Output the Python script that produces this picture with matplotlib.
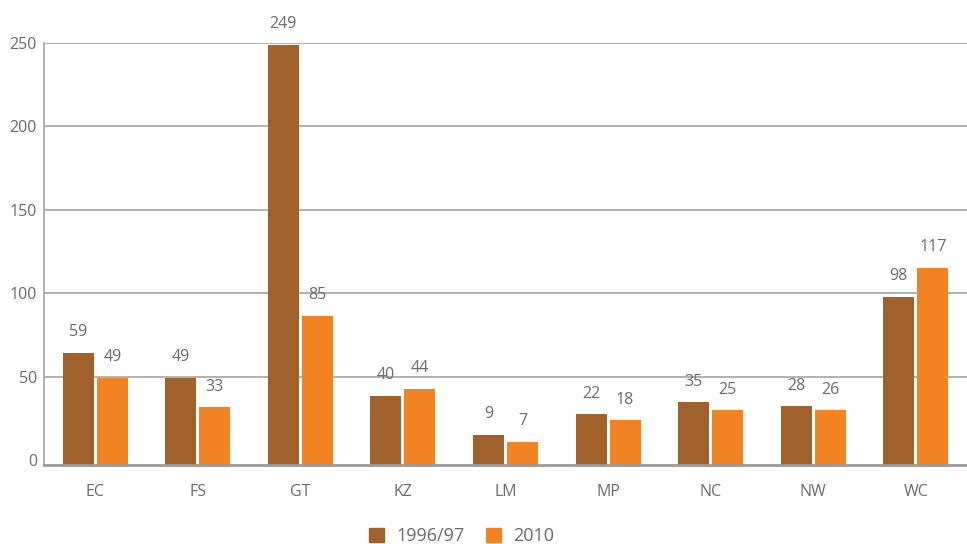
import matplotlib.pyplot as plt
from matplotlib.patches import Patch
import numpy as np

plt.rcParams['font.family'] = ['Open Sans', 'DejaVu Sans']

provinces = ["EC", "FS", "GT", "KZ", "LM", "MP", "NC", "NW", "WC"]
# bar heights as drawn in the picture
bars_9697 = [64.3, 49.4, 249, 38.6, 14.8, 27.3, 34.5, 32.1, 97.6]
bars_2010 = [49.4, 31.5, 86.4, 42.8, 10.6, 23.7, 29.7, 29.7, 115.1]
# printed values above the bars
labels_9697 = [59, 49, 249, 40, 9, 22, 35, 28, 98]
labels_2010 = [49, 33, 85, 44, 7, 18, 25, 26, 117]
series_names = ["1996/97", "2010"]

brown = "#A0622A"
orange = "#F28322"
grey_txt = "#6b6b6b"
grid_col = "#ababab"

fig = plt.figure(figsize=(9.67, 5.44), dpi=100)
ax = fig.add_axes([44 / 967, 1 - 465 / 544, 923 / 967, 422 / 544])

y0 = -3
x = np.arange(len(provinces))
w = 0.302
off = 0.166
b1 = ax.bar(x - off, np.array(bars_9697) - y0, w, bottom=y0, color=brown, zorder=3)
b2 = ax.bar(x + off, np.array(bars_2010) - y0, w, bottom=y0, color=orange, zorder=3)

for rects, labs in [(b1, labels_9697), (b2, labels_2010)]:
    for r, lab in zip(rects, labs):
        ax.annotate(str(lab), (r.get_x() + r.get_width() / 2, r.get_y() + r.get_height()),
                    xytext=(0, 15), textcoords="offset points",
                    ha="center", va="center", fontsize=11.5, color=grey_txt)

ax.set_xlim(-0.5, len(provinces) - 0.5)
ax.set_ylim(y0, 249.5)
yticks = [0, 50, 100, 150, 200, 250]
ax.set_yticks(yticks)
ax.set_xticks(x)
ax.set_xticklabels(provinces)
ax.tick_params(axis="both", length=0, labelsize=11.5, labelcolor=grey_txt)
ax.tick_params(axis="x", pad=14)
ax.tick_params(axis="y", pad=5)

for yv in yticks[1:]:
    ax.axhline(yv, color=grid_col, linewidth=1.3, zorder=0)
for s in ["top", "right"]:
    ax.spines[s].set_visible(False)
ax.spines["left"].set_color(grid_col)
ax.spines["left"].set_linewidth(1.3)
ax.spines["bottom"].set_color("#9a9a9a")
ax.spines["bottom"].set_linewidth(2)
ax.spines["bottom"].set_zorder(4)

handles = [Patch(color=brown), Patch(color=orange)]
fig.legend(handles, series_names, loc="center", bbox_to_anchor=(462 / 967, 1 - 536 / 544),
           ncol=2, frameon=False, fontsize=13, labelcolor=grey_txt,
           handlelength=0.8, handleheight=0.8, handletextpad=0.7, columnspacing=1.2)

fig.savefig("out.png", dpi=100)
